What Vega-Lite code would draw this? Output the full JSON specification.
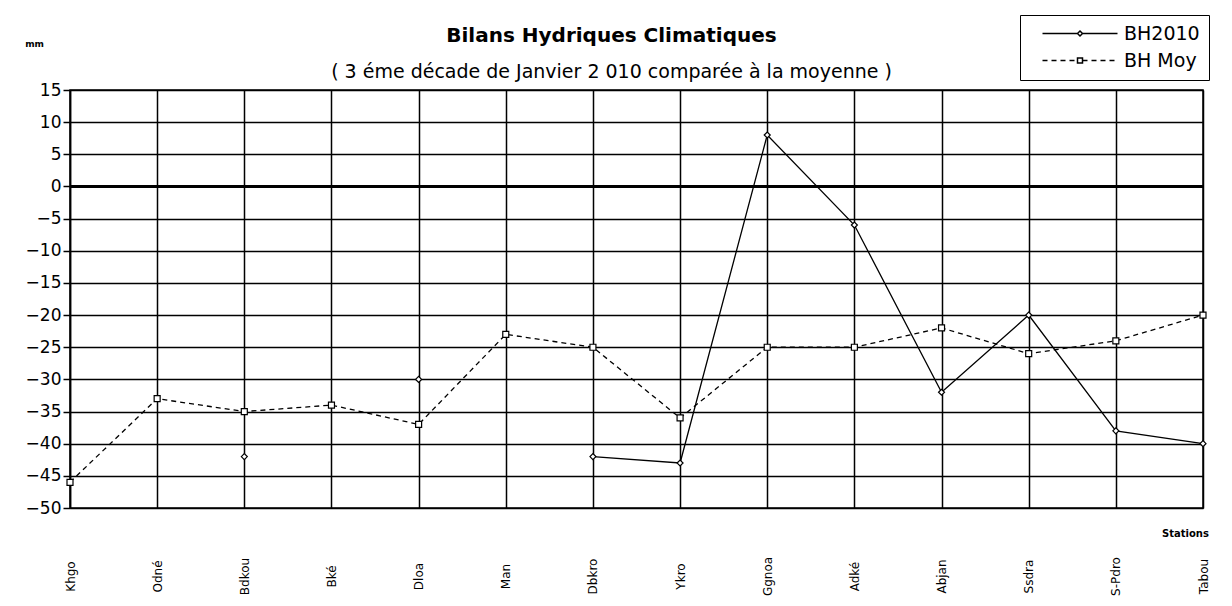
{
  "$schema": "https://vega.github.io/schema/vega-lite/v6.json",
  "width": 1133,
  "height": 418,
  "autosize": {"type": "none"},
  "padding": {"left": 70, "top": 90, "right": 29, "bottom": 98},
  "background": "white",
  "title": {
    "text": "Bilans Hydriques Climatiques",
    "subtitle": "( 3 éme décade de Janvier  2 010 comparée à la moyenne )",
    "anchor": "middle",
    "frame": "group",
    "dx": -25,
    "dy": 67,
    "offset": 0,
    "subtitlePadding": 17,
    "font": "DejaVu Sans",
    "fontSize": 20,
    "fontWeight": "bold",
    "color": "black",
    "subtitleFont": "DejaVu Sans",
    "subtitleFontSize": 19,
    "subtitleColor": "black"
  },
  "data": {
    "values": [
      {"station": "Khgo", "serie": "BH2010", "value": null},
      {"station": "Odné", "serie": "BH2010", "value": null},
      {"station": "Bdkou", "serie": "BH2010", "value": -42},
      {"station": "Bké", "serie": "BH2010", "value": null},
      {"station": "Dloa", "serie": "BH2010", "value": -30},
      {"station": "Man", "serie": "BH2010", "value": null},
      {"station": "Dbkro", "serie": "BH2010", "value": -42},
      {"station": "Ykro", "serie": "BH2010", "value": -43},
      {"station": "Ggnoa", "serie": "BH2010", "value": 8},
      {"station": "Adké", "serie": "BH2010", "value": -6},
      {"station": "Abjan", "serie": "BH2010", "value": -32},
      {"station": "Ssdra", "serie": "BH2010", "value": -20},
      {"station": "S-Pdro", "serie": "BH2010", "value": -38},
      {"station": "Tabou", "serie": "BH2010", "value": -40},
      {"station": "Khgo", "serie": "BH Moy", "value": -46},
      {"station": "Odné", "serie": "BH Moy", "value": -33},
      {"station": "Bdkou", "serie": "BH Moy", "value": -35},
      {"station": "Bké", "serie": "BH Moy", "value": -34},
      {"station": "Dloa", "serie": "BH Moy", "value": -37},
      {"station": "Man", "serie": "BH Moy", "value": -23},
      {"station": "Dbkro", "serie": "BH Moy", "value": -25},
      {"station": "Ykro", "serie": "BH Moy", "value": -36},
      {"station": "Ggnoa", "serie": "BH Moy", "value": -25},
      {"station": "Adké", "serie": "BH Moy", "value": -25},
      {"station": "Abjan", "serie": "BH Moy", "value": -22},
      {"station": "Ssdra", "serie": "BH Moy", "value": -26},
      {"station": "S-Pdro", "serie": "BH Moy", "value": -24},
      {"station": "Tabou", "serie": "BH Moy", "value": -20}
    ]
  },
  "encoding": {
    "x": {
      "field": "station",
      "type": "nominal",
      "sort": null,
      "scale": {"type": "point", "padding": 0},
      "axis": {
        "title": "Stations",
        "titleX": 1115,
        "titleY": 25,
        "titleAlign": "center",
        "titleBaseline": "middle",
        "titleFontSize": 10,
        "titleFontWeight": "bold",
        "labelAngle": -90,
        "labelAlign": "center",
        "labelBaseline": "middle",
        "labelPadding": 68,
        "labelFontSize": 12,
        "labelOverlap": false,
        "ticks": false,
        "domain": false,
        "grid": true
      }
    },
    "y": {
      "field": "value",
      "type": "quantitative",
      "scale": {"domain": [-50, 15], "nice": false, "zero": false},
      "axis": {
        "values": [-50, -45, -40, -35, -30, -25, -20, -15, -10, -5, 0, 5, 10, 15],
        "title": "mm",
        "titleAngle": 0,
        "titleX": -36,
        "titleY": -47,
        "titleAlign": "center",
        "titleBaseline": "middle",
        "titleFontSize": 9,
        "titleFontWeight": "bold",
        "labelFontSize": 17,
        "labelPadding": 2,
        "tickSize": 7,
        "tickWidth": 1.5,
        "domainWidth": 1.5,
        "grid": true
      }
    }
  },
  "layer": [
    {
      "mark": {"type": "rule", "color": "black", "strokeWidth": 3},
      "encoding": {"y": {"datum": 0}, "x": null}
    },
    {
      "transform": [{"filter": "datum.serie === 'BH2010'"}],
      "mark": {"type": "line", "color": "black", "strokeWidth": 1.3},
      "encoding": {}
    },
    {
      "transform": [{"filter": "datum.serie === 'BH Moy'"}],
      "mark": {"type": "line", "color": "black", "strokeWidth": 1.3, "strokeDash": [5, 4]},
      "encoding": {}
    },
    {
      "mark": {"type": "point", "filled": true, "fill": "white", "stroke": "black", "strokeWidth": 1.2, "opacity": 1, "size": 36},
      "encoding": {
        "shape": {
          "condition": {"test": "datum.serie === 'BH2010'", "value": "diamond"},
          "value": "square"
        }
      }
    },
    {
      "transform": [{"filter": "datum.serie === 'none'"}],
      "mark": {"type": "point", "filled": true, "fill": "white", "stroke": "black", "strokeWidth": 1.2, "opacity": 1},
      "encoding": {
        "shape": {
          "field": "serie",
          "type": "nominal",
          "scale": {
            "domain": ["BH2010", "BH Moy"],
            "range": [
              "M0.8,0L7.8,0M8.8,0L15.8,0M8.3,-0.5L8.8,0L8.3,0.5L7.8,0Z",
              "M0.8,0L1.8,0M2.6,0L3.6,0M4.4,0L5.4,0M6.2,0L7.2,0M8.8,0L9.8,0M10.6,0L11.6,0M12.4,0L13.4,0M14.2,0L15.2,0M7.8,-0.5L8.8,-0.5L8.8,0.5L7.8,0.5Z"
            ]
          },
          "legend": {
            "title": null,
            "orient": "none",
            "legendX": 950,
            "legendY": -75,
            "strokeColor": "black",
            "padding": 9,
            "rowPadding": 7,
            "symbolSize": 100,
            "labelFontSize": 19,
            "labelFont": "DejaVu Sans",
            "labelColor": "black",
            "labelOffset": 76
          }
        }
      }
    }
  ],
  "config": {
    "font": "DejaVu Sans",
    "view": {"stroke": "black", "strokeWidth": 1.5},
    "axis": {
      "gridColor": "black",
      "gridOpacity": 1,
      "gridWidth": 1.5,
      "labelColor": "black",
      "titleColor": "black",
      "domainColor": "black",
      "tickColor": "black"
    }
  }
}
